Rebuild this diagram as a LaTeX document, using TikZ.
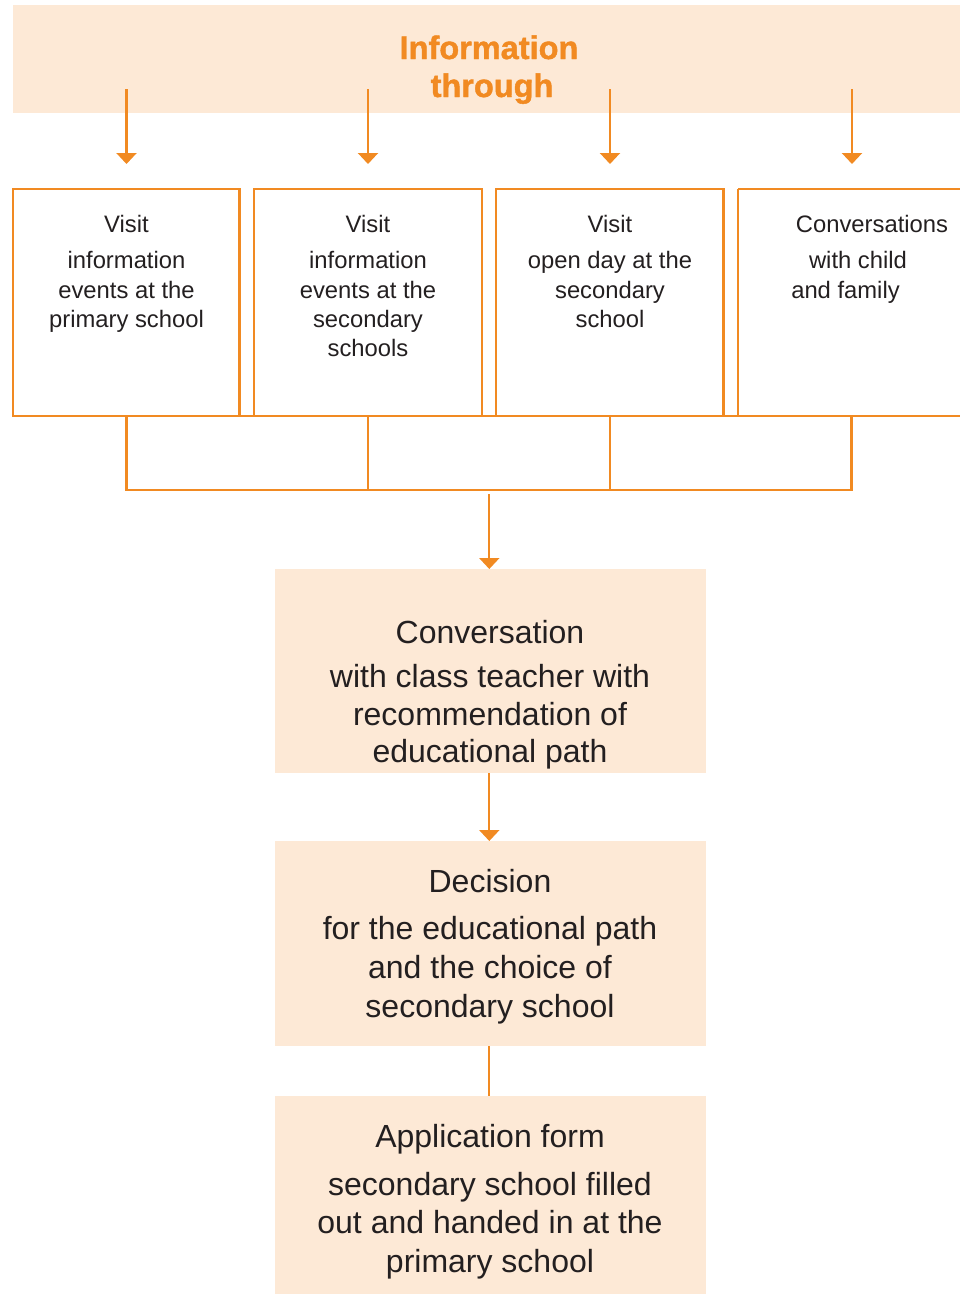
\documentclass[tikz,border=0pt]{standalone}
\usepackage{fontspec}
\setmainfont{Liberation Sans}
\newfontfamily\ttlfont{Liberation Sans}[BoldFeatures={FakeBold=1.3}]
\usetikzlibrary{arrows.meta}
\definecolor{orng}{HTML}{F18A22}
\definecolor{peach}{HTML}{FDE9D6}
\definecolor{ink}{HTML}{231F20}
\tikzset{
  conn/.style={draw=orng, line width=2.2pt},
  arr/.style={conn, -{Triangle[width=20pt,length=11pt]}},
  outbox/.style={draw=orng, line width=2.8pt},
  fillbox/.style={fill=peach},
  small/.style={inner sep=0pt, text=ink, font=\fontsize{23.8}{28}\selectfont, anchor=base},
  big/.style={inner sep=0pt, text=ink, font=\fontsize{32}{38}\selectfont, anchor=base},
  ttl/.style={inner sep=0pt, text=orng, font=\ttlfont\bfseries\fontsize{32.5}{38}\selectfont, anchor=base},
}
\begin{document}
\begin{tikzpicture}[x=1pt,y=-1pt]
\useasboundingbox (0,0) rectangle (960,1294);
% banner
\fill[peach] (13,5) rectangle (960,113);
\node[ttl] (t1) at (489,59) {Information};
\node[ttl] (t2) at (492,97) {through};
% arrow starts
\coordinate (s1) at (126.5,89);
\coordinate (s2) at (368,89);
\coordinate (s3) at (610,89);
\coordinate (s4) at (852,89);
\coordinate (e1) at (126.5,164);
\coordinate (e2) at (368,164);
\coordinate (e3) at (610,164);
\coordinate (e4) at (852,164);
\foreach \i in {1,2,3,4} \draw[arr] (s\i) -- (e\i);
% top boxes
\draw[outbox] (13,189) rectangle (239.5,416);
\draw[outbox] (254,189) rectangle (482,416);
\draw[outbox] (496,189) rectangle (723.5,416);
\draw[outbox] (738,189) -- (962,189);
\draw[outbox] (738,189) -- (738,416);
\draw[outbox] (13,416) -- (962,416);
% box texts
\node[small] (a1) at (126.5,232) {Visit};
\node[small] (a2) at (126.5,268) {information};
\node[small] (a3) at (126.5,298) {events at the};
\node[small] (a4) at (126.5,327) {primary school};
\node[small] (b1) at (368,232) {Visit};
\node[small] (b2) at (368,268) {information};
\node[small] (b3) at (368,298) {events at the};
\node[small] (b4) at (368,327) {secondary};
\node[small] (b5) at (368,356) {schools};
\node[small] (c1) at (610,232) {Visit};
\node[small] (c2) at (610,268) {open day at the};
\node[small] (c3) at (610,298) {secondary};
\node[small] (c4) at (610,327) {school};
\node[small] (d1) at (872,232) {Conversations};
\node[small] (d2) at (858,268) {with child};
\node[small] (d3) at (845.5,298) {and family};
% collector
\coordinate (k1) at (126.5,416);
\coordinate (k2) at (368,416);
\coordinate (k3) at (610,416);
\coordinate (k4) at (851.5,416);
\draw[conn] (k1) -- (126.5,490) -- (851.5,490) -- (k4);
\draw[conn] (k2) -- (368,490);
\draw[conn] (k3) -- (610,490);
\coordinate (m0) at (489.3,494);
% lower boxes
\path[fillbox] (275,569) rectangle (706,773);
\coordinate (Ctop) at (489.3,569);
\coordinate (Cbot) at (489.3,773);
\path[fillbox] (275,841) rectangle (706,1046);
\coordinate (Dtop) at (489.3,841);
\coordinate (Dbot) at (489.3,1046);
\path[fillbox] (275,1096) rectangle (706,1294);
\coordinate (Etop) at (489.3,1096);
\draw[arr] (m0) -- (Ctop);
\draw[arr] (Cbot) -- (Dtop);
\draw[conn] (Dbot) -- (Etop);
\node[big] (C1) at (490,643) {Conversation};
\node[big] (C2) at (490,687) {with class teacher with};
\node[big] (C3) at (490,725) {recommendation of};
\node[big] (C4) at (490,762) {educational path};
\node[big] (D1) at (490,892) {Decision};
\node[big] (D2) at (490,939) {for the educational path};
\node[big] (D3) at (490,978) {and the choice of};
\node[big] (D4) at (490,1017) {secondary school};
\node[big] (E1) at (490,1147) {Application form};
\node[big] (E2) at (490,1195) {secondary school filled};
\node[big] (E3) at (490,1233) {out and handed in at the};
\node[big] (E4) at (490,1272) {primary school};
\end{tikzpicture}
\end{document}
